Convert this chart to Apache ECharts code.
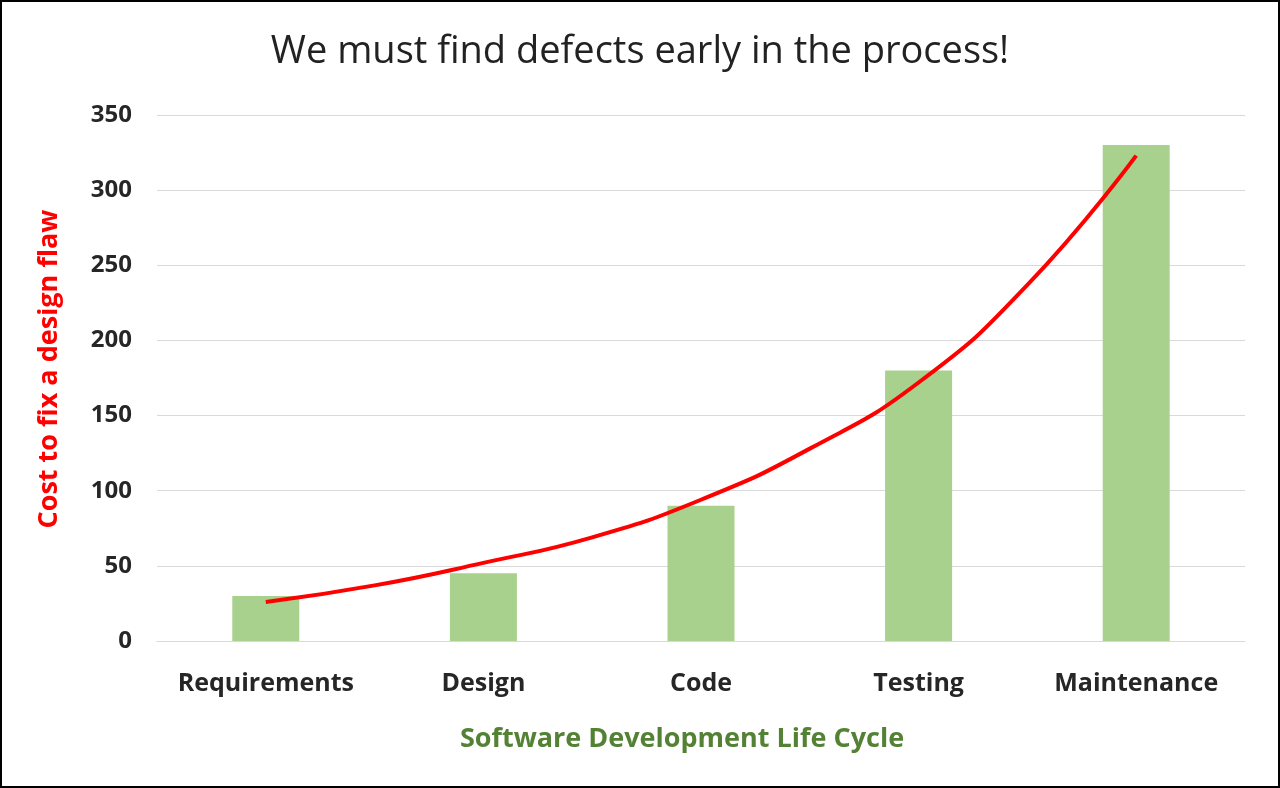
<!DOCTYPE html>
<html>
<head>
<meta charset="utf-8">
<script src="https://cdn.jsdelivr.net/npm/echarts@6/dist/echarts.min.js"></script>
<style>
  html, body { margin: 0; padding: 0; background: #fff; }
  #chart { width: 1280px; height: 788px; }
</style>
</head>
<body>
<div id="chart"></div>
<script>
// phases of the life cycle
var phases = ["Requirements", "Design", "Code", "Testing", "Maintenance"];
// cost to fix (bars)
var costValues = [30, 45, 90, 180, 330];
// red trend curve at each phase and half-way between phases
var trendX = [0, 0.5, 1, 1.5, 2, 2.5, 3, 3.5, 4];
var trendY = [26, 37, 52, 69, 94, 128, 172, 237, 323];

var trendData = [];
for (var i = 0; i < trendX.length; i++) {
  trendData.push([trendX[i], trendY[i]]);
}

var myChart = echarts.init(document.getElementById("chart"));
var option = {
  animation: false,
  textStyle: { fontFamily: "Open Sans" },
  title: {
    text: "We must find defects early in the process!",
    left: "center",
    top: 28,
    textStyle: {
      fontFamily: "Open Sans",
      fontSize: 38,
      fontWeight: "normal",
      color: "#222"
    }
  },
  graphic: [
    {
      type: "rect",
      shape: { x: 1, y: 1, width: 1278, height: 786 },
      style: { fill: "none", stroke: "#000", lineWidth: 2 },
      z: 100
    }
  ],
  grid: {
    left: 157,
    right: 35,
    top: 115,
    bottom: 147
  },
  xAxis: [
    {
      type: "category",
      data: phases,
      axisLine: { lineStyle: { color: "#d9d9d9", width: 1 } },
      axisTick: { show: false },
      axisLabel: {
        interval: 0,
        margin: 30,
        fontSize: 25,
        fontWeight: "bold",
        color: "#262626"
      },
      name: "Software Development Life Cycle",
      nameLocation: "middle",
      nameGap: 85,
      nameTextStyle: {
        fontSize: 27,
        fontWeight: "bold",
        color: "#548235",
        padding: [0, 38, 0, 0]
      }
    },
    {
      // hidden value axis so the trend curve can pass between phases
      type: "value",
      min: -0.5,
      max: 4.5,
      show: false
    }
  ],
  yAxis: {
    type: "value",
    min: 0,
    max: 350,
    interval: 50,
    axisLine: { show: false },
    axisTick: { show: false },
    splitLine: { lineStyle: { color: "#d9d9d9", width: 1 } },
    axisLabel: {
      margin: 25,
      fontSize: 24,
      fontWeight: "bold",
      color: "#262626"
    },
    name: "Cost to fix a design flaw",
    nameLocation: "middle",
    nameGap: 94,
    nameTextStyle: {
      fontSize: 27,
      fontWeight: "bold",
      color: "#ff0000",
      padding: [0, 0, 0, 18]
    }
  },
  series: [
    {
      name: "Cost",
      type: "bar",
      data: costValues,
      barWidth: 67,
      itemStyle: { color: "#a9d18e" }
    },
    {
      name: "Trend",
      type: "line",
      xAxisIndex: 1,
      data: trendData,
      smooth: 0.5,
      symbol: "none",
      lineStyle: { color: "#ff0000", width: 4 },
      z: 5
    }
  ]
};
myChart.setOption(option);
</script>
</body>
</html>
